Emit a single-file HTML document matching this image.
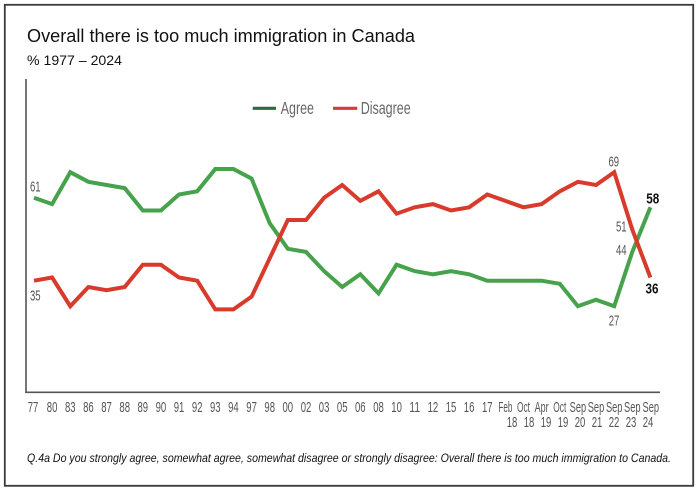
<!DOCTYPE html>
<html>
<head>
<meta charset="utf-8">
<style>
  html,body{margin:0;padding:0;background:#fff;}
  svg{display:block;}
  text{font-family:"Liberation Sans", sans-serif;}
</style>
</head>
<body>
<svg width="700" height="489" viewBox="0 0 700 489" xmlns="http://www.w3.org/2000/svg">
  <rect x="0" y="0" width="700" height="489" fill="#fff"/>
  <!-- outer frame -->
  <rect x="4.8" y="4.8" width="688.4" height="481" fill="none" stroke="#3a3a3a" stroke-width="1.8"/>

  <!-- title -->
  <text x="27" y="42" font-size="18.5" fill="#111" textLength="388" lengthAdjust="spacingAndGlyphs">Overall there is too much immigration in Canada</text>
  <text x="27" y="65" font-size="14" fill="#111" textLength="95" lengthAdjust="spacingAndGlyphs">%  1977 – 2024</text>

  <!-- axes -->
  <line x1="26" y1="79" x2="26" y2="393" stroke="#555" stroke-width="1.6"/>
  <line x1="25.2" y1="392.3" x2="660" y2="392.3" stroke="#555" stroke-width="1.6"/>

  <!-- legend -->
  <line x1="252.7" y1="108.3" x2="276" y2="108.3" stroke="#2f6b40" stroke-width="3.2"/>
  <text x="280.7" y="114" font-size="17.5" fill="#666" textLength="33.3" lengthAdjust="spacingAndGlyphs">Agree</text>
  <line x1="333" y1="108.3" x2="357.3" y2="108.3" stroke="#d63a3a" stroke-width="3.2"/>
  <text x="360.7" y="114" font-size="17.5" fill="#666" textLength="50" lengthAdjust="spacingAndGlyphs">Disagree</text>

  <!-- series -->
  <polyline fill="none" stroke="#46a24b" stroke-width="4" stroke-linejoin="miter" stroke-miterlimit="3"
    points="34,197.7 52.1,204.1 70.3,172.2 88.4,181.8 106.5,185.0 124.7,188.1 142.8,210.5 160.9,210.5 179.0,194.5 197.2,191.3 215.3,169.0 233.4,169.0 251.6,178.6 269.7,223.2 287.8,248.8 306.0,251.9 324.1,271.1 342.2,287.0 360.3,274.3 378.5,293.4 396.6,264.7 414.7,271.1 432.9,274.3 451.0,271.1 469.1,274.3 487.3,280.7 505.4,280.7 523.5,280.7 541.6,280.7 559.8,283.8 577.9,306.2 596.0,299.8 614.2,306.2 632.3,251.9 650.4,207.3"/>
  <polyline fill="none" stroke="#d83a2c" stroke-width="4" stroke-linejoin="miter" stroke-miterlimit="3"
    points="34,280.7 52.1,277.5 70.3,306.2 88.4,287.0 106.5,290.2 124.7,287.0 142.8,264.7 160.9,264.7 179.0,277.5 197.2,280.7 215.3,309.4 233.4,309.4 251.6,296.6 269.7,258.3 287.8,220.0 306.0,220.0 324.1,197.7 342.2,185.0 360.3,200.9 378.5,191.3 396.6,213.7 414.7,207.3 432.9,204.1 451.0,210.5 469.1,207.3 487.3,194.5 505.4,200.9 523.5,207.3 541.6,204.1 559.8,191.3 577.9,181.8 596.0,185.0 614.2,172.2 632.3,229.6 650.4,277.5"/>

  <!-- data labels -->
  <g font-size="15" fill="#555" text-anchor="middle">
    <text x="35.3" y="191.5" textLength="10.6" lengthAdjust="spacingAndGlyphs">61</text>
    <text x="35.3" y="300.7" textLength="10.6" lengthAdjust="spacingAndGlyphs">35</text>
    <text x="613.8" y="166.7" textLength="10.6" lengthAdjust="spacingAndGlyphs">69</text>
    <text x="621.3" y="231.7" textLength="10.6" lengthAdjust="spacingAndGlyphs">51</text>
    <text x="621.3" y="255" textLength="10.6" lengthAdjust="spacingAndGlyphs">44</text>
    <text x="614" y="325.7" textLength="10.6" lengthAdjust="spacingAndGlyphs">27</text>
  </g>
  <g font-size="15" fill="#111" font-weight="bold" text-anchor="middle">
    <text x="652.7" y="203.3" textLength="13" lengthAdjust="spacingAndGlyphs">58</text>
    <text x="652" y="293.3" textLength="13" lengthAdjust="spacingAndGlyphs">36</text>
  </g>

  <!-- x tick labels -->
  <g font-size="15" fill="#555" text-anchor="middle">
    <text x="33" y="412" textLength="10.6" lengthAdjust="spacingAndGlyphs">77</text>
    <text x="52.1" y="412" textLength="10.6" lengthAdjust="spacingAndGlyphs">80</text>
    <text x="70.3" y="412" textLength="10.6" lengthAdjust="spacingAndGlyphs">83</text>
    <text x="88.4" y="412" textLength="10.6" lengthAdjust="spacingAndGlyphs">86</text>
    <text x="106.5" y="412" textLength="10.6" lengthAdjust="spacingAndGlyphs">87</text>
    <text x="124.7" y="412" textLength="10.6" lengthAdjust="spacingAndGlyphs">88</text>
    <text x="142.8" y="412" textLength="10.6" lengthAdjust="spacingAndGlyphs">89</text>
    <text x="160.9" y="412" textLength="10.6" lengthAdjust="spacingAndGlyphs">90</text>
    <text x="179.0" y="412" textLength="10.6" lengthAdjust="spacingAndGlyphs">91</text>
    <text x="197.2" y="412" textLength="10.6" lengthAdjust="spacingAndGlyphs">92</text>
    <text x="215.3" y="412" textLength="10.6" lengthAdjust="spacingAndGlyphs">93</text>
    <text x="233.4" y="412" textLength="10.6" lengthAdjust="spacingAndGlyphs">94</text>
    <text x="251.6" y="412" textLength="10.6" lengthAdjust="spacingAndGlyphs">97</text>
    <text x="269.7" y="412" textLength="10.6" lengthAdjust="spacingAndGlyphs">98</text>
    <text x="287.8" y="412" textLength="10.6" lengthAdjust="spacingAndGlyphs">00</text>
    <text x="306.0" y="412" textLength="10.6" lengthAdjust="spacingAndGlyphs">02</text>
    <text x="324.1" y="412" textLength="10.6" lengthAdjust="spacingAndGlyphs">03</text>
    <text x="342.2" y="412" textLength="10.6" lengthAdjust="spacingAndGlyphs">05</text>
    <text x="360.3" y="412" textLength="10.6" lengthAdjust="spacingAndGlyphs">06</text>
    <text x="378.5" y="412" textLength="10.6" lengthAdjust="spacingAndGlyphs">08</text>
    <text x="396.6" y="412" textLength="10.6" lengthAdjust="spacingAndGlyphs">10</text>
    <text x="414.7" y="412" textLength="10.6" lengthAdjust="spacingAndGlyphs">11</text>
    <text x="432.9" y="412" textLength="10.6" lengthAdjust="spacingAndGlyphs">12</text>
    <text x="451.0" y="412" textLength="10.6" lengthAdjust="spacingAndGlyphs">15</text>
    <text x="469.1" y="412" textLength="10.6" lengthAdjust="spacingAndGlyphs">16</text>
    <text x="487.3" y="412" textLength="10.6" lengthAdjust="spacingAndGlyphs">17</text>
    <text x="505.4" y="412" textLength="14" lengthAdjust="spacingAndGlyphs">Feb</text>
    <text x="523.5" y="412" textLength="13" lengthAdjust="spacingAndGlyphs">Oct</text>
    <text x="541.6" y="412" textLength="14" lengthAdjust="spacingAndGlyphs">Apr</text>
    <text x="559.8" y="412" textLength="13" lengthAdjust="spacingAndGlyphs">Oct</text>
    <text x="577.9" y="412" textLength="16.5" lengthAdjust="spacingAndGlyphs">Sep</text>
    <text x="596.0" y="412" textLength="16.5" lengthAdjust="spacingAndGlyphs">Sep</text>
    <text x="614.2" y="412" textLength="16.5" lengthAdjust="spacingAndGlyphs">Sep</text>
    <text x="632.3" y="412" textLength="16.5" lengthAdjust="spacingAndGlyphs">Sep</text>
    <text x="650.8" y="412" textLength="16.5" lengthAdjust="spacingAndGlyphs">Sep</text>

    <text x="512" y="427" textLength="10.6" lengthAdjust="spacingAndGlyphs">18</text>
    <text x="529" y="427" textLength="10.6" lengthAdjust="spacingAndGlyphs">18</text>
    <text x="546" y="427" textLength="10.6" lengthAdjust="spacingAndGlyphs">19</text>
    <text x="563" y="427" textLength="10.6" lengthAdjust="spacingAndGlyphs">19</text>
    <text x="580" y="427" textLength="10.6" lengthAdjust="spacingAndGlyphs">20</text>
    <text x="597" y="427" textLength="10.6" lengthAdjust="spacingAndGlyphs">21</text>
    <text x="614" y="427" textLength="10.6" lengthAdjust="spacingAndGlyphs">22</text>
    <text x="631" y="427" textLength="10.6" lengthAdjust="spacingAndGlyphs">23</text>
    <text x="648" y="427" textLength="10.6" lengthAdjust="spacingAndGlyphs">24</text>
  </g>

  <!-- footnote -->
  <text x="27" y="462" font-size="12" font-style="italic" fill="#111" textLength="644" lengthAdjust="spacingAndGlyphs">Q.4a Do you strongly agree, somewhat agree, somewhat disagree or strongly disagree: Overall there is too much immigration to Canada.</text>
</svg>
</body>
</html>
